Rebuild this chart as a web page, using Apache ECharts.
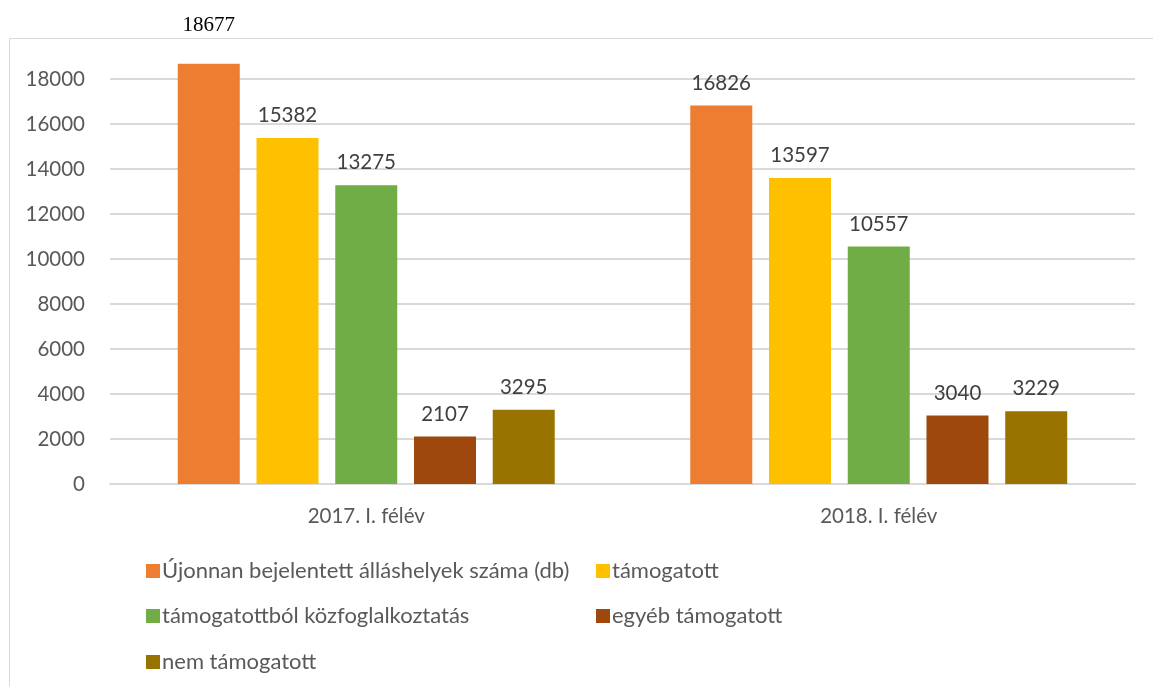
<!DOCTYPE html>
<html>
<head>
<meta charset="utf-8">
<script src="https://cdn.jsdelivr.net/npm/echarts@6/dist/echarts.min.js"></script>
<style>
  html, body { margin: 0; padding: 0; background: #fff; }
  #chart { width: 1153px; height: 686px; }
</style>
</head>
<body>
<div id="chart"></div>
<script>
// félévek
var categories = ["2017. I. félév", "2018. I. félév"];
var seriesNames = [
  "Újonnan bejelentett álláshelyek száma (db)",
  "támogatott",
  "támogatottból közfoglalkoztatás",
  "egyéb támogatott",
  "nem támogatott"
];
var ujonnan = [18677, 16826];
var tamogatott = [15382, 13597];
var kozfoglalkoztatas = [13275, 10557];
var egyeb = [2107, 3040];
var nemTamogatott = [3295, 3229];
var yTicks = [0, 2000, 4000, 6000, 8000, 10000, 12000, 14000, 16000, 18000];

var colors = ["#ED7D31", "#FFC000", "#70AD47", "#9E480E", "#997300"];
var font = "Lato";
var allData = [ujonnan, tamogatott, kozfoglalkoztatas, egyeb, nemTamogatott];

var myChart = echarts.init(document.getElementById("chart"));

var series = allData.map(function (d, i) {
  return {
    name: seriesNames[i],
    type: "bar",
    barWidth: 62,
    barGap: "27%",
    clip: false,
    itemStyle: { color: colors[i] },
    label: {
      show: true,
      position: "top",
      distance: 12,
      color: "#404040",
      fontFamily: font,
      fontSize: 20.5
    },
    data: d.map(function (v, j) {
      // az első oszlop felirata más betűtípusú a képen
      if (i === 0 && j === 0) {
        return {
          value: v,
          label: { fontFamily: "Liberation Serif", color: "#000", fontSize: 21, distance: 28 }
        };
      }
      return v;
    })
  };
});

// jelmagyarázat pozíciók
var legendPos = [
  [141, 555], [591, 555], [141, 600], [591, 600], [141, 646]
];
var legends = seriesNames.map(function (n, i) {
  return {
    data: [n],
    left: legendPos[i][0],
    top: legendPos[i][1],
    icon: "rect",
    itemWidth: 14,
    itemHeight: 14,
    itemGap: 0,
    textStyle: { color: "#595959", fontFamily: font, fontSize: 22, padding: [0, 0, 0, -3] }
  };
});

var option = {
  backgroundColor: "#fff",
  animation: false,
  color: colors,
  graphic: [{
    type: "rect",
    shape: { x: 9.5, y: 38.5, width: 1200, height: 700 },
    style: { fill: "none", stroke: "#d9d9d9", lineWidth: 1 },
    silent: true
  }],
  grid: { left: 110, right: 18, top: 79, bottom: 202 },
  legend: legends,
  xAxis: {
    type: "category",
    data: categories,
    axisTick: { show: false },
    axisLine: { lineStyle: { color: "#d9d9d9", width: 2 } },
    axisLabel: { color: "#595959", fontFamily: font, fontSize: 20.5, margin: 22 }
  },
  yAxis: {
    type: "value",
    min: yTicks[0],
    max: yTicks[yTicks.length - 1],
    interval: 2000,
    axisLine: { show: false },
    axisTick: { show: false },
    axisLabel: {
      color: "#595959", fontFamily: font, fontSize: 20.5, margin: 25,
      formatter: function (v) { return String(v); }
    },
    splitLine: { lineStyle: { color: "#d9d9d9", width: 2 } }
  },
  series: series
};

myChart.setOption(option);
</script>
</body>
</html>
